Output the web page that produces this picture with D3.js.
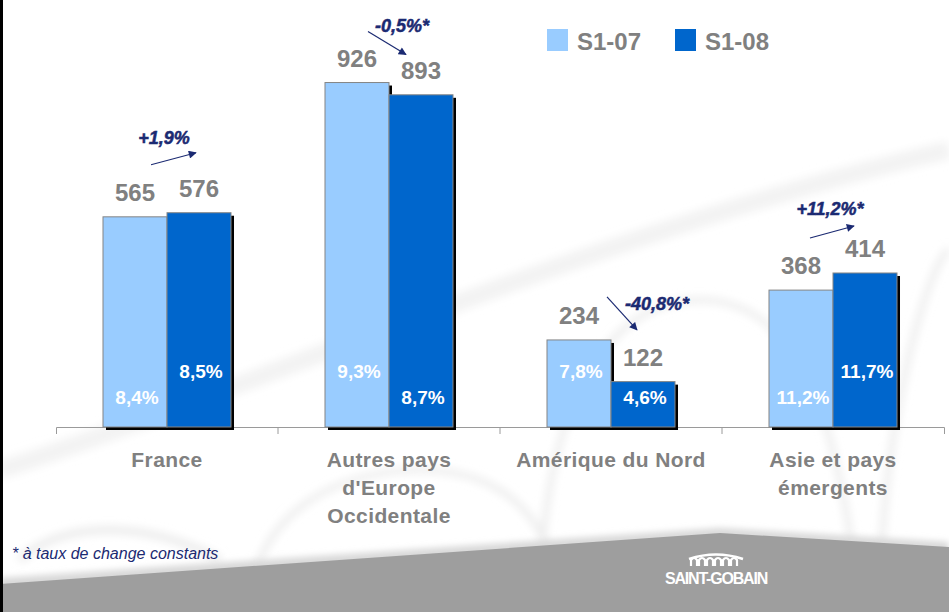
<!DOCTYPE html>
<html>
<head>
<meta charset="utf-8">
<script src="https://cdn.jsdelivr.net/npm/d3@7"></script>
<style>
  html, body { margin: 0; padding: 0; background: #fff; }
  svg { display: block; }
  text { font-family: "Liberation Sans", Arial, sans-serif; }
</style>
</head>
<body>
<svg id="chart" width="949" height="612"></svg>
<script>
// ---------------- data ----------------
const categories = ["France", "Autres pays d'Europe Occidentale", "Amérique du Nord", "Asie et pays émergents"];
const categoryLines = [["France"], ["Autres pays", "d'Europe", "Occidentale"], ["Amérique du Nord"], ["Asie et pays", "émergents"]];
const seriesNames = ["S1-07", "S1-08"];
const valuesS107 = [565, 926, 234, 368];
const valuesS108 = [576, 893, 122, 414];
const marginsS107 = ["8,4%", "9,3%", "7,8%", "11,2%"];
const marginsS108 = ["8,5%", "8,7%", "4,6%", "11,7%"];
const growthLabels = ["+1,9%", "-0,5%*", "-40,8%*", "+11,2%*"];
const footnote = "* à taux de change constants";
const logoText = "SAINT-GOBAIN";

// ---------------- layout / style ----------------
const W = 949, H = 612;
const colors = ["#99CCFF", "#0066CC"];
const navy = "#1B2A72";
const grey = "#808080";
const svg = d3.select("#chart");

const defs = svg.append("defs");
defs.append("filter").attr("id", "blur").attr("x", "-20%").attr("y", "-20%").attr("width", "140%").attr("height", "140%")
  .append("feGaussianBlur").attr("stdDeviation", 4);
defs.append("filter").attr("id", "soft").attr("x", "-5%").attr("y", "-50%").attr("width", "110%").attr("height", "200%")
  .append("feGaussianBlur").attr("stdDeviation", 3);
defs.append("marker").attr("id", "arrow").attr("viewBox", "0 0 10 10")
  .attr("refX", 9).attr("refY", 5).attr("markerWidth", 9).attr("markerHeight", 8)
  .attr("markerUnits", "userSpaceOnUse").attr("orient", "auto")
  .append("path").attr("d", "M0,0 L10,5 L0,10 z").attr("fill", navy);

svg.append("rect").attr("width", W).attr("height", H).attr("fill", "#fff");
const deco = svg.append("g").attr("filter", "url(#blur)").attr("fill", "none").attr("stroke", "#ececec");
deco.append("path").attr("d", "M0,470 C250,390 600,230 949,150").attr("stroke-width", 18).attr("stroke", "#f3f3f3");
deco.append("path").attr("d", "M250,612 C250,520 330,470 420,470 C520,470 560,540 560,612").attr("stroke-width", 6);
deco.append("path").attr("d", "M540,612 C540,420 600,300 700,300 C800,300 840,420 860,612").attr("stroke-width", 6);
deco.append("path").attr("d", "M880,612 C880,420 930,260 949,250").attr("stroke-width", 6);
deco.append("path").attr("d", "M20,560 C60,520 150,520 220,560").attr("stroke-width", 8);

// scales
const baseY = 427;
const y = d3.scaleLinear().domain([0, 1000]).range([baseY, 55]);
const x0 = d3.scaleBand().domain(categories).range([56, 944]).paddingInner(0.4234).paddingOuter(0.2117);
const x1 = d3.scaleBand().domain(seriesNames).range([0, x0.bandwidth()]);
const color = d3.scaleOrdinal().domain(seriesNames).range(colors);

// axis
const axisG = svg.append("g").attr("transform", `translate(0,${baseY})`)
  .call(d3.axisBottom(x0).tickValues([]).tickSizeOuter(7));
axisG.select(".domain").attr("stroke", "#9a9a9a").attr("stroke-width", 1);
const boundaries = categories.slice(1).map(c => x0(c) - x0.step() * x0.paddingInner() / 2);
axisG.selectAll(".btick").data(boundaries).join("line").attr("class", "btick")
  .attr("x1", d => d).attr("x2", d => d).attr("y1", 0).attr("y2", 7)
  .attr("stroke", "#9a9a9a");

const rows = categories.map((c, i) => ({
  cat: c,
  bars: [
    { s: seriesNames[0], v: valuesS107[i], m: marginsS107[i] },
    { s: seriesNames[1], v: valuesS108[i], m: marginsS108[i] }
  ]
}));
const pctRow = [[0, 1], [1, 0], [1, 0], [0, 1]];

const groups = svg.append("g").selectAll("g").data(rows).join("g")
  .attr("transform", d => `translate(${x0(d.cat)},0)`);

groups.each(function(d, gi) {
  const g = d3.select(this);
  d.bars.forEach((b) => {
    const bx = x1(b.s), bw = x1.bandwidth();
    g.append("rect").attr("x", bx + 3).attr("y", y(b.v) + 3)
      .attr("width", bw).attr("height", baseY - y(b.v)).attr("fill", "#000");
    g.append("rect").attr("x", bx).attr("y", y(b.v))
      .attr("width", bw).attr("height", baseY - y(b.v))
      .attr("fill", color(b.s)).attr("stroke", "#858585").attr("stroke-width", 1);
  });
  d.bars.forEach((b, bi) => {
    const cx = x1(b.s) + x1.bandwidth() / 2;
    g.append("text").attr("x", cx).attr("y", y(b.v) - 16)
      .attr("text-anchor", "middle").attr("font-size", 24).attr("font-weight", "bold")
      .attr("fill", grey).text(b.v);
    g.append("text").attr("x", cx + 2).attr("y", baseY - 23 - pctRow[gi][bi] * 26)
      .attr("text-anchor", "middle").attr("font-size", 19).attr("font-weight", "bold")
      .attr("fill", "#fff").text(b.m);
  });
});

// growth annotations (offsets relative to band centre and tallest bar top)
const annot = [
  { tx: -3, ty: -69, ax1: -16, ay1: -48, ax2: 29, ay2: -60 },
  { tx: 13, ty: -51, ax1: -21, ay1: -51, ax2: 17, ay2: -28 },
  { tx: 46, ty: -30, ax1: -4, ay1: -43, ax2: 26, ay2: -10 },
  { tx: -3, ty: -58, ax1: -23, ay1: -35, ax2: 21, ay2: -47 }
];
const ann = svg.append("g");
rows.forEach((d, i) => {
  const cx = x0(d.cat) + x0.bandwidth() / 2;
  const top = y(Math.max(valuesS107[i], valuesS108[i]));
  const a = annot[i];
  ann.append("text").attr("x", cx + a.tx).attr("y", top + a.ty)
    .attr("text-anchor", "middle").attr("font-size", 18).attr("font-weight", "bold")
    .attr("font-style", "italic").attr("fill", navy)
    .attr("stroke", navy).attr("stroke-width", 0.5).text(growthLabels[i]);
  ann.append("line").attr("x1", cx + a.ax1).attr("y1", top + a.ay1)
    .attr("x2", cx + a.ax2).attr("y2", top + a.ay2)
    .attr("stroke", navy).attr("stroke-width", 1.2).attr("marker-end", "url(#arrow)");
});

// category labels
const catG = svg.append("g");
rows.forEach((d, i) => {
  const cx = x0(d.cat) + x0.bandwidth() / 2;
  const t = catG.append("text").attr("text-anchor", "middle").attr("font-size", 21)
    .attr("font-weight", "bold").attr("fill", grey).attr("letter-spacing", 0.4);
  categoryLines[i].forEach((ln, li) => {
    t.append("tspan").attr("x", cx).attr("y", baseY + 40 + li * 28).text(ln);
  });
});

// legend
const legend = svg.append("g");
const legX = [547, 675];
seriesNames.forEach((s, i) => {
  legend.append("rect").attr("x", legX[i]).attr("y", 29).attr("width", 21).attr("height", 22).attr("fill", color(s));
  legend.append("text").attr("x", legX[i] + 30).attr("y", 50).attr("font-size", 24)
    .attr("font-weight", "bold").attr("fill", grey).text(s);
});

// footer grey band
svg.append("path").attr("d", "M0,578 L720,528 L949,542 L949,552 L720,538 L0,592 Z")
  .attr("fill", "#d8d8d8").attr("filter", "url(#soft)");
svg.append("path").attr("d", "M0,584 L720,533 L949,547 L949,612 L0,612 Z").attr("fill", "#9e9e9e");

// footnote
svg.append("text").attr("x", 12).attr("y", 559).attr("font-size", 16).attr("font-style", "italic")
  .attr("fill", navy).text(footnote);

// logo
const logo = svg.append("g").attr("transform", "translate(716,0)");
const archPath = d3.path();
[-22, -14, -6, 2, 10, 18].forEach((ax) => {
  archPath.moveTo(ax - 3, 566);
  archPath.lineTo(ax - 3, 560);
  archPath.quadraticCurveTo(ax, 556, ax + 3, 560);
  archPath.lineTo(ax + 3, 566);
});
logo.append("path").attr("d", "M-27,559 Q0,550 27,559").attr("stroke", "#fff").attr("stroke-width", 2.5).attr("fill", "none");
logo.append("path").attr("d", archPath.toString()).attr("stroke", "#fff").attr("stroke-width", 2.2).attr("fill", "none");
logo.append("text").attr("x", 0).attr("y", 584).attr("text-anchor", "middle").attr("font-size", 16)
  .attr("font-weight", "bold").attr("fill", "#fff").attr("letter-spacing", -1.2).text(logoText);

// left border
svg.append("rect").attr("x", 0).attr("y", 0).attr("width", 3).attr("height", H).attr("fill", "#000");
</script>
</body>
</html>
